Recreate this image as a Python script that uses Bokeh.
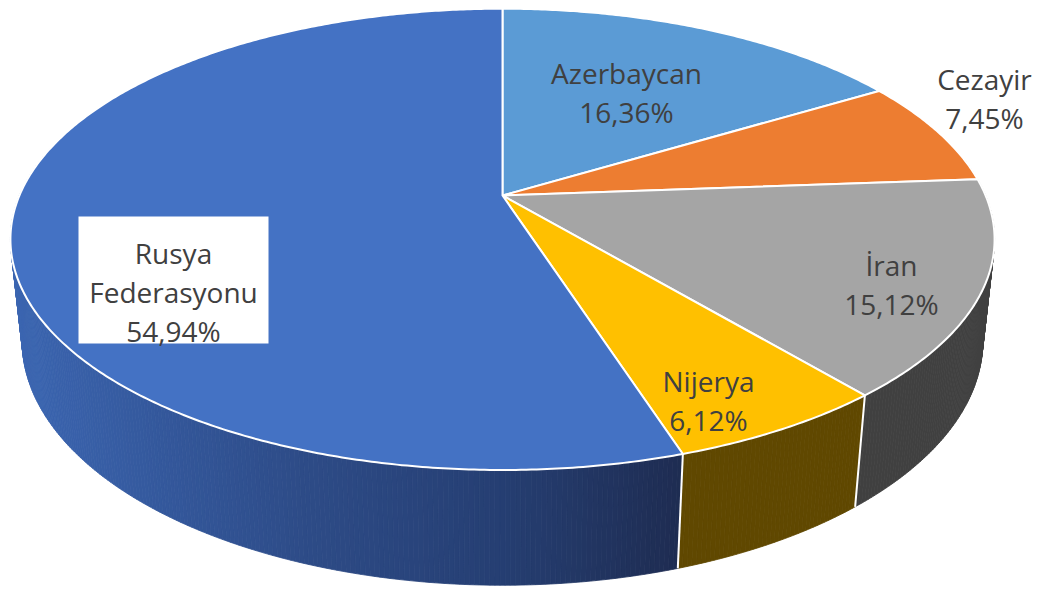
import numpy as np
from bokeh.plotting import figure
from bokeh.models import Range1d
from bokeh.embed import file_html
from bokeh.resources import INLINE
from bokeh.core.properties import value

# ---- data ----
countries = ["Azerbaycan", "Cezayir", "İran", "Nijerya", "Rusya Federasyonu"]
shares = [16.36, 7.45, 15.12, 6.12, 54.94]

# ---- styles ----
top_colors = ["#5B9BD5", "#ED7D31", "#A5A5A5", "#FFC000", "#4472C4"]
side_colors = ["#3A6E9E", "#A8561F", "#404040", "#604800", "gradient"]
rus_grad_x = [0, 40, 300, 500, 700]
rus_grad_c = [(0x3D, 0x68, 0xB3), (0x3A, 0x63, 0xAD), (0x2E, 0x4C, 0x88), (0x26, 0x3F, 0x73), (0x1E, 0x2B, 0x4F)]
TEXT_COLOR = "#404040"
FONT = "Open Sans"
FONT_SIZE = "28px"
LINE_STEP = 39
# label anchor: centre x, first baseline y (layout)
label_layout = [(626, 72), (984, 78), (891, 264), (708, 380), (173, 252)]
rus_box = (78, 268, 216, 343)

# ---- projection (3D pie seen from above) ----
CX, CY = 502.0, 195.0
F = 2256.0
D = 4.67
PHI = np.radians(27.4)
H = 0.239


def proj(theta_deg, z):
    t = np.radians(theta_deg)
    X = np.sin(t)
    Y = np.cos(t)
    den = D + Y * np.cos(PHI) - z * np.sin(PHI)
    sx = CX + F * X / den
    sy = CY - F * (Y * np.sin(PHI) + z * np.cos(PHI)) / den
    return sx, sy


def rus_color(x):
    r = np.interp(x, rus_grad_x, [c[0] for c in rus_grad_c])
    g = np.interp(x, rus_grad_x, [c[1] for c in rus_grad_c])
    b = np.interp(x, rus_grad_x, [c[2] for c in rus_grad_c])
    return "#%02x%02x%02x" % (int(r), int(g), int(b))


total = sum(shares)
starts, ends = [], []
acc = 0.0
for s in shares:
    starts.append(acc / total * 360.0)
    acc += s
    ends.append(acc / total * 360.0)

W, HT = 1043, 593
p = figure(width=W, height=HT, output_backend="svg", toolbar_location=None,
           x_range=Range1d(0, W), y_range=Range1d(HT, 0), min_border=0)
p.axis.visible = False
p.grid.visible = False
p.outline_line_color = None
p.background_fill_color = "white"
p.border_fill_color = "white"

# ---- side walls (painter order: far first) ----
strips = []
for i in range(len(shares)):
    a0 = max(starts[i], 80.0)
    a1 = min(ends[i], 285.0)
    if a1 <= a0:
        continue
    n = max(2, int((a1 - a0) / 0.5) + 1)
    th = np.linspace(a0, a1, n)
    for k in range(n - 1):
        t0, t1 = th[k], th[k + 1]
        x0t, y0t = proj(t0, 0)
        x1t, y1t = proj(t1, 0)
        x0b, y0b = proj(t0, -H)
        x1b, y1b = proj(t1, -H)
        xs = [x0t, x1t, x1b, x0b]
        ys = [y0t, y1t, y1b, y0b]
        if side_colors[i] == "gradient":
            c = rus_color((x0t + x1t) / 2)
        else:
            c = side_colors[i]
        depth = np.cos(np.radians((t0 + t1) / 2))
        strips.append((depth, xs, ys, c))
strips.sort(key=lambda s: -s[0])
p.patches([s[1] for s in strips], [s[2] for s in strips],
          fill_color=[s[3] for s in strips], line_color=[s[3] for s in strips], line_width=0.8)

# white seams between walls of visible slices
for i in range(len(shares)):
    t = ends[i]
    if 104 < t < 256:
        xt, yt = proj(t, 0)
        xb, yb = proj(t, -H)
        p.line([xt, xb], [yt, yb], line_color="white", line_width=2)

# ---- top faces ----
for i in range(len(shares)):
    n = max(3, int((ends[i] - starts[i]) / 0.5) + 1)
    th = np.linspace(starts[i], ends[i], n)
    xs, ys = proj(th, 0)
    xs = [CX] + list(xs)
    ys = [CY] + list(ys)
    p.patch(xs, ys, fill_color=top_colors[i], line_color="white", line_width=2, line_join="round")

# ---- labels ----
l, r, t, b = rus_box
p.quad(left=[l], right=[r], top=[t], bottom=[b], fill_color="white", line_color=None)
for i, name in enumerate(countries):
    lines = name.split(" ") + [("%.2f" % shares[i]).replace(".", ",") + "%"]
    cx, by = label_layout[i]
    p.text(x=[cx] * len(lines), y=[by + LINE_STEP * k for k in range(len(lines))], text=lines,
           text_align="center", text_baseline="alphabetic", text_color=TEXT_COLOR,
           text_font=value(FONT), text_font_size=FONT_SIZE)

open("out.html", "w").write(file_html(p, INLINE))
